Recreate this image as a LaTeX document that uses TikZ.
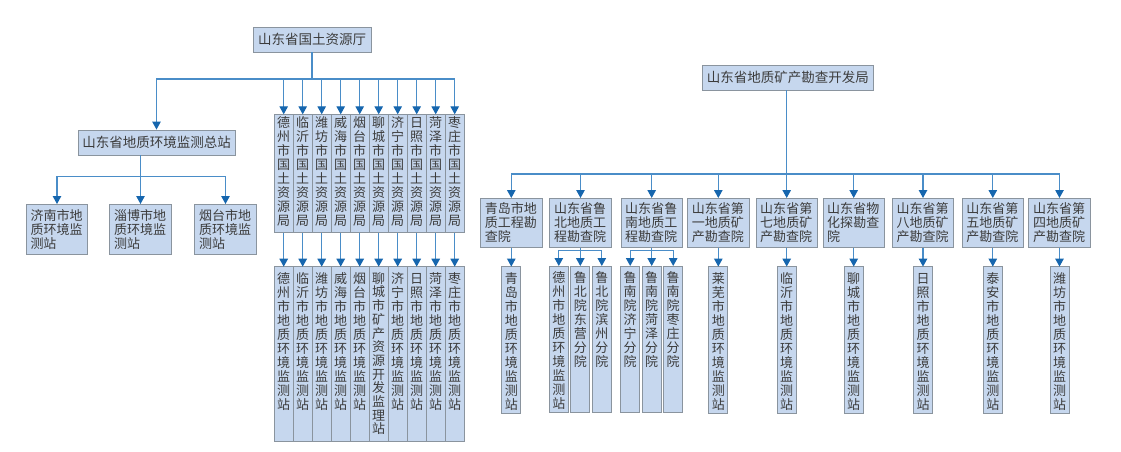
\documentclass[tikz,border=0pt]{standalone}
\usepackage{fontspec}
\setmainfont{Noto Sans CJK SC}
\XeTeXlinebreaklocale "zh"
\XeTeXlinebreakskip=0pt plus 1pt
\usepackage{tikz}
\usetikzlibrary{positioning, arrows.meta}
\definecolor{BoxFill}{HTML}{C6D7EE}
\definecolor{BoxLine}{HTML}{8A949E}
\definecolor{LinkBlue}{HTML}{4A8DC8}
\definecolor{TipBlue}{HTML}{1666AE}
\definecolor{Ink}{HTML}{3C3C3C}

\begin{document}
\begin{tikzpicture}[x=1pt, y=-1pt,
    box/.style={draw=BoxLine, fill=BoxFill, line width=0.9pt, text=Ink},
    head/.style={box, font=\fontsize{13.5}{16}\selectfont, minimum height=25pt, inner xsep=3pt, inner ysep=0pt},
    unit/.style={box, font=\fontsize{13}{14}\selectfont, text width=53pt, align=left, inner xsep=4.25pt, minimum height=49pt, anchor=north},
    col/.style={box, font=\fontsize{13}{14}\selectfont, text width=13.5pt, align=center, inner xsep=2.75pt, inner ysep=2.5pt, outer sep=0pt, text height=11pt, text depth=102.4pt, anchor=north},
    stn/.style={col, text height=14pt, text depth=156pt},
    stnr/.style={col, text height=14pt, text depth=127.5pt},
    ln/.style={draw=LinkBlue, line width=1.1pt},
    arr/.style={ln, -{Triangle[length=8pt, width=8.5pt, color=TipBlue]}}
]
\useasboundingbox (0,0) rectangle (1121,451);

% 国土资源厅
\node[head, minimum width=118pt] (ting) at (312,39.5) {山东省国土资源厅};
\node[head, minimum width=157pt] (zong) at (156.5,142.5) {山东省地质环境监测总站};

\node[unit, minimum height=50pt] (jn) at (57,204) {济南市地质环境监测站};
\node[unit, minimum height=50pt] (zb) at (140.5,204) {淄博市地质环境监测站};
\node[unit, minimum height=50pt] (yt) at (225.5,204) {烟台市地质环境监测站};

\node[col] (gt1) at (283.7,114.3) {德州市国土资源局};
\node[col, right=0pt of gt1] (gt2) {临沂市国土资源局};
\node[col, right=0pt of gt2] (gt3) {潍坊市国土资源局};
\node[col, right=0pt of gt3] (gt4) {威海市国土资源局};
\node[col, right=0pt of gt4] (gt5) {烟台市国土资源局};
\node[col, right=0pt of gt5] (gt6) {聊城市国土资源局};
\node[col, right=0pt of gt6] (gt7) {济宁市国土资源局};
\node[col, right=0pt of gt7] (gt8) {日照市国土资源局};
\node[col, right=0pt of gt8] (gt9) {菏泽市国土资源局};
\node[col, right=0pt of gt9] (gt10) {枣庄市国土资源局};

\node[stn] (hj1) at (283.7,266.7) {德州市地质环境监测站};
\node[stn, right=0pt of hj1] (hj2) {临沂市地质环境监测站};
\node[stn, right=0pt of hj2] (hj3) {潍坊市地质环境监测站};
\node[stn, right=0pt of hj3] (hj4) {威海市地质环境监测站};
\node[stn, right=0pt of hj4] (hj5) {烟台市地质环境监测站};
\node[stn, right=0pt of hj5, font=\fontsize{13}{13.7}\selectfont] (hj6) {聊城市矿产资源开发监理站};
\node[stn, right=0pt of hj6] (hj7) {济宁市地质环境监测站};
\node[stn, right=0pt of hj7] (hj8) {日照市地质环境监测站};
\node[stn, right=0pt of hj8] (hj9) {菏泽市地质环境监测站};
\node[stn, right=0pt of hj9] (hj10) {枣庄市地质环境监测站};

\coordinate (busA) at (312,79);
\draw[ln] (ting) -- (busA);
\draw[arr] (busA) -| (zong);
\draw[arr] (busA) -| (gt1);
\draw[arr] (busA) -| (gt2);
\draw[arr] (busA) -| (gt3);
\draw[arr] (busA) -| (gt4);
\draw[arr] (busA) -| (gt5);
\draw[arr] (busA) -| (gt6);
\draw[arr] (busA) -| (gt7);
\draw[arr] (busA) -| (gt8);
\draw[arr] (busA) -| (gt9);
\draw[arr] (busA) -| (gt10);

\draw[arr] (gt1) -- (hj1);
\draw[arr] (gt2) -- (hj2);
\draw[arr] (gt3) -- (hj3);
\draw[arr] (gt4) -- (hj4);
\draw[arr] (gt5) -- (hj5);
\draw[arr] (gt6) -- (hj6);
\draw[arr] (gt7) -- (hj7);
\draw[arr] (gt8) -- (hj8);
\draw[arr] (gt9) -- (hj9);
\draw[arr] (gt10) -- (hj10);

\coordinate (busB) at (140.5,176.7);
\draw[ln] (zong.south -| busB) -- (busB);
\draw[arr] (busB) -| (jn);
\draw[arr] (busB) -| (zb);
\draw[arr] (busB) -| (yt);

% 地质矿产勘查开发局
\node[head, minimum width=171pt] (kc) at (787.8,77.5) {山东省地质矿产勘查开发局};

\node[unit] (qdy) at (511.3,198) {青岛市地质工程勘查院};
\node[unit] (lby) at (580.5,198) {山东省鲁北地质工程勘查院};
\node[unit] (lny) at (651.7,198) {山东省鲁南地质工程勘查院};
\node[unit] (dy1) at (718.3,198) {山东省第一地质矿产勘查院};
\node[unit] (dy7) at (786.7,198) {山东省第七地质矿产勘查院};
\node[unit] (whty) at (853.7,198) {山东省物化探勘查院};
\node[unit] (dy8) at (923,198) {山东省第八地质矿产勘查院};
\node[unit] (dy5) at (992.8,198) {山东省第五地质矿产勘查院};
\node[unit] (dy4) at (1059.5,198) {山东省第四地质矿产勘查院};

\node[stnr, below=18.7pt of qdy] (qdz) {青岛市地质环境监测站};
\node[stnr] (lbz1) at (558.8,266) {德州市地质环境监测站};
\node[stnr, right=2.5pt of lbz1] (lbz2) {鲁北院东营分院};
\node[stnr, right=2.5pt of lbz2] (lbz3) {鲁北院滨州分院};
\node[stnr] (lnz1) at (630.2,266) {鲁南院济宁分院};
\node[stnr, right=2.5pt of lnz1] (lnz2) {鲁南院菏泽分院};
\node[stnr, right=2.5pt of lnz2] (lnz3) {鲁南院枣庄分院};
\node[stnr, below=18.7pt of dy1] (lwz) {莱芜市地质环境监测站};
\node[stnr, below=18.7pt of dy7] (lyz) {临沂市地质环境监测站};
\node[stnr, below=18.7pt of whty] (lcz) {聊城市地质环境监测站};
\node[stnr, below=18.7pt of dy8] (rzz) {日照市地质环境监测站};
\node[stnr, below=18.7pt of dy5] (taz) {泰安市地质环境监测站};
\node[stnr, below=18.7pt of dy4] (wfz) {潍坊市地质环境监测站};

\coordinate (busC) at (786.7,174);
\draw[ln] (kc.south -| busC) -- (busC);
\draw[arr] (busC) -| (qdy);
\draw[arr] (busC) -| (lby);
\draw[arr] (busC) -| (lny);
\draw[arr] (busC) -| (dy1);
\draw[arr] (busC) -| (dy7);
\draw[arr] (busC) -| (whty);
\draw[arr] (busC) -| (dy8);
\draw[arr] (busC) -| (dy5);
\draw[arr] (busC) -| (dy4);

\draw[arr] (qdy) -- (qdz);
\coordinate[below=3pt of lby] (lbbus);
\draw[ln] (lby) -- (lbbus);
\draw[arr] (lbbus) -| (lbz1);
\draw[arr] (lbbus) -| (lbz2);
\draw[arr] (lbbus) -| (lbz3);
\coordinate[below=3pt of lny] (lnbus);
\draw[ln] (lny) -- (lnbus);
\draw[arr] (lnbus) -| (lnz1);
\draw[arr] (lnbus) -| (lnz2);
\draw[arr] (lnbus) -| (lnz3);
\draw[arr] (dy1) -- (lwz);
\draw[arr] (dy7) -- (lyz);
\draw[arr] (whty) -- (lcz);
\draw[arr] (dy8) -- (rzz);
\draw[arr] (dy5) -- (taz);
\draw[arr] (dy4) -- (wfz);

\end{tikzpicture}
\end{document}
